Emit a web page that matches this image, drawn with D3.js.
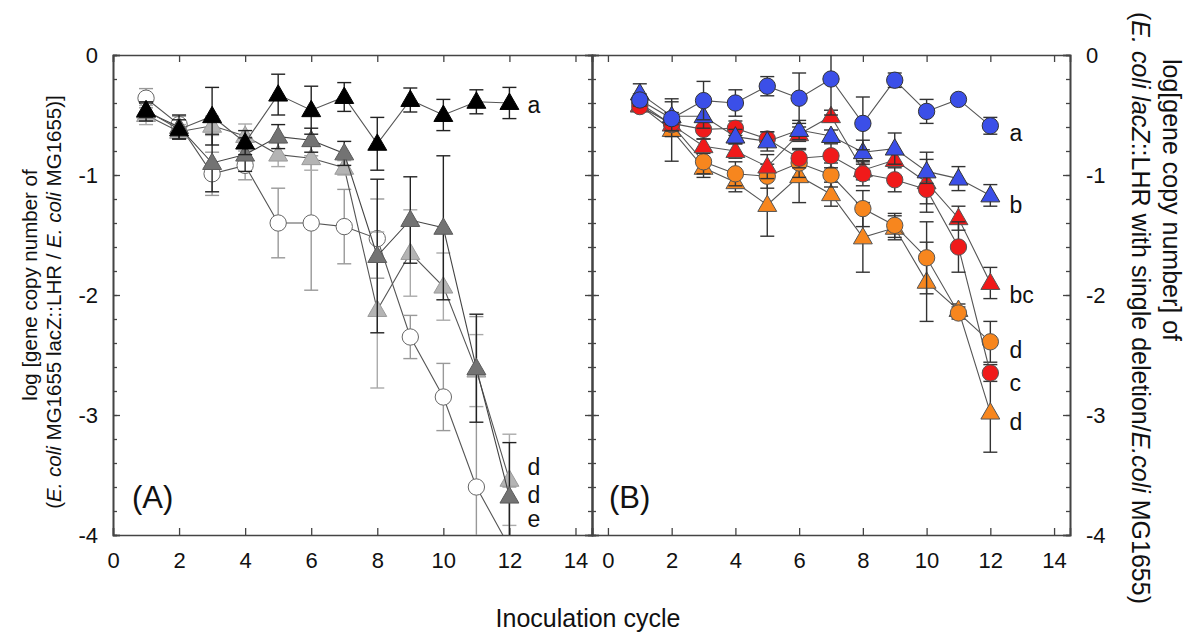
<!DOCTYPE html>
<html><head><meta charset="utf-8">
<script src="https://cdn.jsdelivr.net/npm/d3@7"></script>
<style>body{margin:0;background:#fff}svg{font-family:"Liberation Sans",Arial,sans-serif}</style>
</head><body><svg id="c" width="1197" height="636"></svg>
<script>
const cycles = [1,2,3,4,5,6,7,8,9,10,11,12];
// Panel A
const aBlack    = [-0.46,-0.62,-0.51,-0.73,-0.33,-0.46,-0.35,-0.74,-0.375,-0.5,-0.39,-0.40];
const aBlackErr = [0.06,0.08,0.24,0.1,0.17,0.2,0.12,0.22,0.1,0.13,0.1,0.13];
const aOpen     = [-0.36,-0.58,-0.99,-0.92,-1.40,-1.40,-1.43,-1.53,-2.35,-2.85,-3.6,-4.1];
const aOpenErr  = [0.08,0.07,0.18,0.12,0.29,0.56,0.31,0.33,0.18,0.28,1.42,0.5];
const aDark     = [-0.47,-0.6,-0.9,-0.83,-0.68,-0.71,-0.82,-1.675,-1.375,-1.44,-2.61,-3.68];
const aDarkErr  = [0.08,0.1,0.24,0.14,0.1,0.1,0.1,0.64,0.36,0.6,0.45,0.45];
const aLight    = [-0.5,-0.64,-0.59,-0.675,-0.83,-0.86,-0.94,-2.125,-1.65,-1.93,-2.63,-3.54];
const aLightErr = [0.08,0.06,0.08,0.1,0.1,0.1,0.06,0.65,0.36,0.28,0.3,0.38];
// Panel B
const bBlueC    = [-0.375,-0.53,-0.38,-0.40,-0.26,-0.36,-0.2,-0.57,-0.21,-0.47,-0.37,-0.59];
const bBlueCErr = [0.05,0.05,0.16,0.11,0.08,0.21,0.3,0.22,0.06,0.1,0.03,0.07];
const bBlueT    = [-0.32,-0.51,-0.51,-0.68,-0.72,-0.625,-0.675,-0.81,-0.78,-0.97,-1.03,-1.17];
const bBlueTErr = [0.08,0.12,0.1,0.06,0.08,0.08,0.05,0.1,0.13,0.1,0.1,0.09];
const bRedC     = [-0.43,-0.57,-0.62,-0.61,-0.70,-0.86,-0.84,-0.99,-1.04,-1.12,-1.6,-2.65];
const bRedCErr  = [0.04,0.06,0.08,0.06,0.06,0.08,0.1,0.1,0.1,0.12,0.21,0.07];
const bRedT     = [-0.42,-0.58,-0.76,-0.80,-0.93,-0.66,-0.51,-0.96,-0.875,-1.06,-1.36,-1.9];
const bRedTErr  = [0.04,0.05,0.06,0.06,0.1,0.06,0.05,0.08,0.05,0.25,0.1,0.13];
const bOrC      = [-0.40,-0.58,-0.89,-0.99,-1.01,-0.90,-1.0,-1.28,-1.42,-1.69,-2.15,-2.39];
const bOrCErr   = [0.04,0.1,0.1,0.1,0.1,0.12,0.1,0.15,0.1,0.3,0.05,0.17];
const bOrT      = [-0.42,-0.625,-0.94,-1.06,-1.25,-1.01,-1.16,-1.52,-1.44,-1.89,-2.125,-2.98];
const bOrTErr   = [0.04,0.26,0.08,0.08,0.26,0.22,0.1,0.29,0.1,0.33,0.05,0.33];

const xTicks = [0,2,4,6,8,10,12,14];
const yTicks = [0,-1,-2,-3,-4];
const lettersA = [["a",-0.42],["d",-3.43],["d",-3.67],["e",-3.87]];
const lettersB = [["a",-0.65],["b",-1.25],["bc",-2.0],["d",-2.46],["c",-2.73],["d",-3.06]];

const svg = d3.select("#c");
const y = d3.scaleLinear([-4,0],[535,55]);
const xA = d3.scaleLinear([0,14.5],[113,592]);
const xB = d3.scaleLinear([-0.5,14.5],[592,1070]);
const minor = d3.range(-4,0.001,0.2).map(v=>+v.toFixed(1));
const axisCol = "#444";

function frame(x, leftLabels, rightLabels, id){
  const [x0,x1] = x.range();
  const defs = svg.append("defs");
  defs.append("clipPath").attr("id",id).append("rect").attr("x",x0).attr("y",55).attr("width",x1-x0).attr("height",480);
  const gb = svg.append("g").attr("transform","translate(0,535)")
    .call(d3.axisBottom(x).tickValues(xTicks).tickSize(-7).tickPadding(17).tickFormat(d=>String(d)));
  const gt = svg.append("g").attr("transform","translate(0,55)")
    .call(d3.axisTop(x).tickValues(xTicks).tickSize(-7).tickFormat(""));
  const gl = svg.append("g").attr("transform",`translate(${x0},0)`)
    .call(d3.axisLeft(y).tickValues(yTicks).tickSize(-7).tickPadding(15).tickFormat(leftLabels?(d=>String(d)):""));
  const gl2 = svg.append("g").attr("transform",`translate(${x0},0)`)
    .call(d3.axisLeft(y).tickValues(minor).tickSize(-4).tickFormat(""));
  const gr = svg.append("g").attr("transform",`translate(${x1},0)`)
    .call(d3.axisRight(y).tickValues(yTicks).tickSize(-7).tickPadding(16).tickFormat(rightLabels?(d=>String(d)):""));
  const gr2 = svg.append("g").attr("transform",`translate(${x1},0)`)
    .call(d3.axisRight(y).tickValues(minor).tickSize(-4).tickFormat(""));
  [gb,gt,gl,gl2,gr,gr2].forEach(g=>{
    g.selectAll(".domain").attr("stroke",axisCol).attr("stroke-width",1.6);
    g.selectAll(".tick line").attr("stroke",axisCol).attr("stroke-width",1.3);
    g.selectAll("text").attr("font-size",22).attr("fill","#111").attr("font-family","Liberation Sans, Arial, sans-serif");
  });
  gb.selectAll("text").attr("dy","0.71em");
}

frame(xA,true,false,"clipA");
frame(xB,false,true,"clipB");

function series(x, clip, vals, errs, shape, fill, stroke, errCol, lineCol){
  const g = svg.append("g").attr("clip-path",`url(#${clip})`);
  const pts = cycles.map((c,i)=>({c, v:vals[i], e:errs[i]}));
  g.append("path").datum(pts).attr("fill","none").attr("stroke",lineCol).attr("stroke-width",1.1)
    .attr("d", d3.line().x(d=>x(d.c)).y(d=>y(d.v)));
  const eb = g.selectAll(null).data(pts).enter().append("g").attr("stroke",errCol).attr("stroke-width",1.4);
  eb.append("line").attr("x1",d=>x(d.c)).attr("x2",d=>x(d.c)).attr("y1",d=>y(d.v+d.e)).attr("y2",d=>y(d.v-d.e));
  eb.append("line").attr("x1",d=>x(d.c)-7).attr("x2",d=>x(d.c)+7).attr("y1",d=>y(d.v+d.e)).attr("y2",d=>y(d.v+d.e));
  eb.append("line").attr("x1",d=>x(d.c)-7).attr("x2",d=>x(d.c)+7).attr("y1",d=>y(d.v-d.e)).attr("y2",d=>y(d.v-d.e));
  const sym = shape==="circle" ? d3.symbol(d3.symbolCircle, 210) : d3.symbol(d3.symbolTriangle, 155);
  g.selectAll(null).data(pts).enter().append("path")
    .attr("transform",d=>`translate(${x(d.c)},${y(d.v)+(shape==="circle"?0:1)})`)
    .attr("d",sym).attr("fill",fill).attr("stroke",stroke).attr("stroke-width",1);
}

// Panel A
series(xA,"clipA",aOpen,aOpenErr,"circle","#fff","#666","#999","#555");
series(xA,"clipA",aLight,aLightErr,"triangle","#b4b4b4","#9a9a9a","#aaa","#555");
series(xA,"clipA",aDark,aDarkErr,"triangle","#737373","#5a5a5a","#222","#444");
series(xA,"clipA",aBlack,aBlackErr,"triangle","#000","#000","#222","#555");
// Panel B
series(xB,"clipB",bOrT,bOrTErr,"triangle","#f7861e","#555","#333","#555");
series(xB,"clipB",bOrC,bOrCErr,"circle","#f7861e","#555","#333","#555");
series(xB,"clipB",bRedT,bRedTErr,"triangle","#f01a1a","#555","#333","#555");
series(xB,"clipB",bRedC,bRedCErr,"circle","#f01a1a","#555","#333","#555");
series(xB,"clipB",bBlueT,bBlueTErr,"triangle","#3b4fe8","#333","#333","#555");
series(xB,"clipB",bBlueC,bBlueCErr,"circle","#3b4fe8","#333","#333","#555");

// letters
svg.selectAll(null).data(lettersA).enter().append("text")
  .attr("x",xA(12.55)).attr("y",d=>y(d[1])).attr("dy","0.35em").attr("font-size",23).attr("fill","#111").text(d=>d[0]);
svg.selectAll(null).data(lettersB).enter().append("text")
  .attr("x",xB(12.6)).attr("y",d=>y(d[1])).attr("dy","0.35em").attr("font-size",23).attr("fill","#111").text(d=>d[0]);

svg.append("text").attr("x",132).attr("y",497).attr("dy","0.35em").attr("font-size",31).attr("fill","#111").text("(A)");
svg.append("text").attr("x",609).attr("y",497).attr("dy","0.35em").attr("font-size",31).attr("fill","#111").text("(B)");

svg.append("text").attr("x",588).attr("y",627).attr("text-anchor","middle").attr("font-size",25).attr("fill","#111").text("Inoculation cycle");

// left title
const lt = svg.append("g").attr("font-size",20.5).attr("fill","#111").attr("text-anchor","middle");
lt.append("text").attr("transform","translate(30,285) rotate(-90)").attr("dy","0.35em").text("log [gene copy number of");
const l2 = lt.append("text").attr("transform","translate(54,302) rotate(-90)").attr("dy","0.35em");
l2.append("tspan").text("(");
l2.append("tspan").attr("font-style","italic").text("E. coli");
l2.append("tspan").text(" MG1655 lacZ::LHR / ");
l2.append("tspan").attr("font-style","italic").text("E. coli");
l2.append("tspan").text(" MG1655)]");

// right title
const rt = svg.append("g").attr("font-size",25).attr("fill","#111").attr("text-anchor","middle");
rt.append("text").attr("transform","translate(1172,200) rotate(90)").attr("dy","0.35em").text("log[gene copy number] of");
const r2 = rt.append("text").attr("transform","translate(1141,308) rotate(90)").attr("dy","0.35em");
r2.append("tspan").text("(");
r2.append("tspan").attr("font-style","italic").text("E. coli lacZ");
r2.append("tspan").text("::LHR with single deletion/");
r2.append("tspan").attr("font-style","italic").text("E.coli");
r2.append("tspan").text(" MG1655)");
</script></body></html>
